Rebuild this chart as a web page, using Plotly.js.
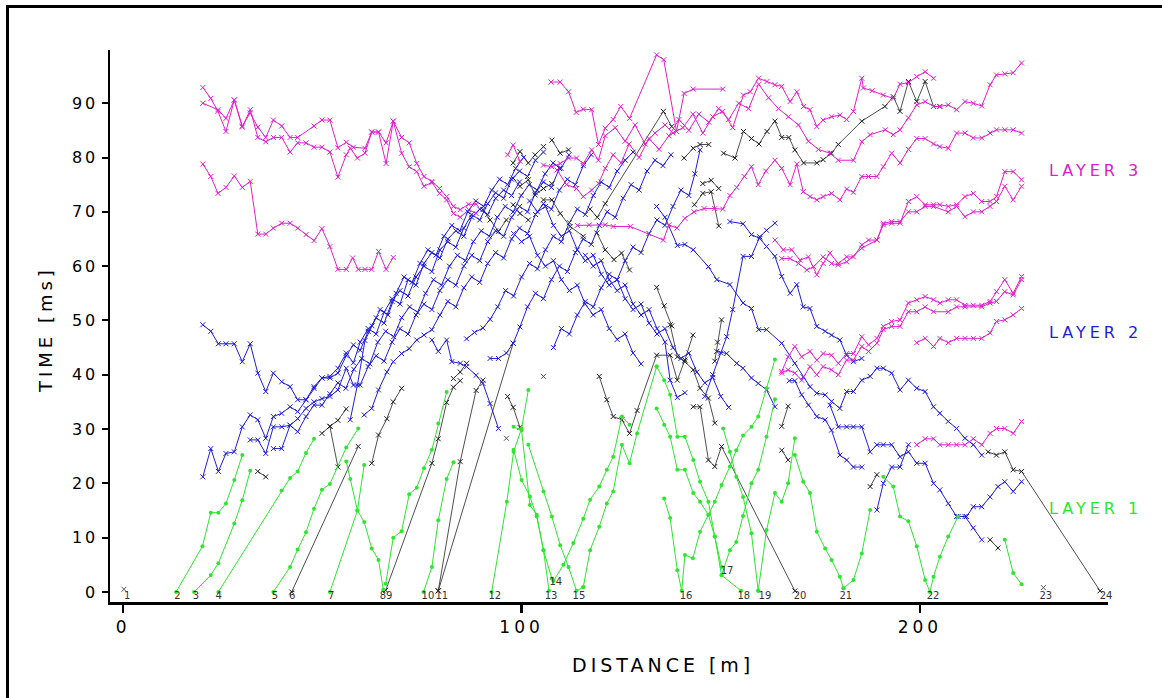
<!DOCTYPE html>
<html>
<head>
<meta charset="utf-8">
<script src="https://cdn.plot.ly/plotly-3.0.1.min.js"></script>
<style>
  html, body { margin:0; padding:0; background:#fff; }
  #wrap { position:relative; width:1162px; height:698px; }
  #chart { position:absolute; left:0; top:0; width:1162px; height:698px; }
  #frame { position:absolute; left:6px; top:5px; width:1160px; height:700px;
           border-left:3px solid #000; border-top:3px solid #000; pointer-events:none; }
  .xtick text { letter-spacing:4px; }
  .ytick text { letter-spacing:3px; }
  .annotation-text { letter-spacing:4px; }
</style>
</head>
<body>
<div id="wrap"><div id="chart"></div><div id="frame"></div></div>
<script>
// ---------------- LAYER 3 (magenta) ----------------
const m1x=[20.0,22.0,23.8,25.8,27.9,29.9,31.9,33.8,35.8,37.7,39.8,41.9,43.8,45.9,47.9,49.9,51.9,53.9,56.0,57.0,58.8,60.7,62.4,64.1,66.0,67.8,69.9,71.8,73.7,75.5,77.5,79.4,81.2,82.9,84.6,86.7,88.6];
const m1y=[92.9,90.9,88.5,84.8,90.6,85.6,88.8,83.7,82.9,83.7,83.7,81.0,82.7,82.7,81.9,81.9,81.0,76.4,80.5,81.7,79.9,80.8,84.7,84.7,78.9,86.7,80.8,78.3,77.4,74.7,75.4,73.4,72.2,69.7,69.0,70.4,69.7];
const m2x=[20.0,23.8,25.8,27.9,29.9,31.9,33.8,35.8,37.7,39.8,41.9,43.8,47.9,49.9,51.9,53.9,56.0,57.8,60.7,62.4,64.1,66.0,67.8,69.9,71.8,73.7,75.5,77.5,79.4,81.2,82.9,84.6,86.7,88.6];
const m2y=[90.0,88.8,87.2,90.6,85.8,88.2,85.6,83.7,86.9,85.8,83.7,83.7,85.8,86.9,86.9,81.8,82.8,81.9,81.7,84.7,84.7,82.7,86.7,83.7,82.7,78.9,76.5,75.6,74.3,72.8,71.0,70.4,71.4,71.4];
const m3x=[20.0,22.0,23.8,25.8,27.9,29.9,31.9,33.8,35.8,37.7,39.8,41.9,43.8,45.9,47.9,49.9,51.9,53.9,56.0,57.6,59.0,60.7,62.4,64.1,66.0,67.8];
const m3y=[78.8,76.5,73.4,74.5,76.6,74.5,75.6,65.9,65.9,67.0,67.9,67.9,67.0,65.8,64.7,66.9,63.6,59.4,59.4,61.5,59.4,59.4,59.4,62.7,59.4,61.6];
const m4x=[107.4,109.7,111.8,113.7,115.5,117.6,119.3,121.0,123.0,124.9,127.1,133.9,135.7,138.9,140.8,143.1,150.5];
const m4y=[93.9,93.9,92.1,88.3,88.9,88.8,82.4,85.4,87.0,89.4,87.2,98.9,98.0,84.8,91.8,92.6,92.6];
const m5x=[105.5,107.6,109.7,111.8,113.8,115.5,117.6,119.3,121.0,123.5,126.0,128.5,131.0,133.5,136.0,138.0,140.5,143.0,145.5,148.0,150.5,153.0,155.7,157.4,159.5,161.6,163.6,165.3,167.4,169.1,170.8,172.4,174.1,175.7,177.8,179.9,181.6,183.3,185.4,185.8,188.0,190.8,193.3,195.0,197.1,199.2,201.3,203.4];
const m5y=[78.6,78.3,78.9,79.9,79.9,78.9,81.4,79.5,84.0,85.5,83.0,86.0,82.5,84.5,86.0,84.5,85.5,88.0,84.5,87.5,88.5,85.5,91.5,92.1,94.6,94.0,93.4,93.1,90.3,92.1,89.4,88.8,85.7,86.9,87.5,87.8,87.0,88.5,94.6,92.8,92.3,91.5,90.9,93.5,93.8,94.9,95.8,94.6];
const m6x=[108.9,111.3,113.8,115.5,117.6,119.3,121.0,123.0,125.0,127.0,129.5,132.0,134.5,137.0,139.5,142.0,144.5,147.0,149.5,152.0,154.5,157.0,159.5,162.0,164.5,167.0,169.5,172.0,174.5,177.4,179.5,183.3,185.4,187.5,191.3,193.3,195.0,197.1,199.2,201.3,203.4,205.0,207.1,209.2,211.3,213.4,215.5,217.6,219.2,221.3,223.4,225.5];
const m6y=[77.7,75.0,74.3,72.8,74.0,75.2,78.0,80.5,79.0,82.5,80.0,83.5,81.5,84.0,87.0,85.0,88.0,86.5,89.0,87.0,90.0,89.0,93.5,91.0,89.0,87.5,86.0,83.0,81.5,80.8,79.5,79.5,82.9,84.2,85.1,84.2,85.1,87.3,89.7,90.3,89.4,89.4,89.7,88.8,90.3,90.0,89.5,93.4,95.2,95.4,95.6,97.4];
const m7x=[114.0,117.0,121.0,123.0,127.3,135.6,137.0,139.0,141.0,143.3,145.8,148.5,150.5,152.3,154.0,155.9,157.7,159.4,161.3,163.6,165.3,167.4,169.1,170.7,172.4,174.1,175.7,177.8,179.9,181.6,183.3,185.4,187.1,189.2,190.8,192.9,195.0,197.1,199.2,201.3,203.4,205.0,207.1,209.2,211.3,213.4,215.5,217.6,219.2,221.3,223.4,225.5];
const m7y=[67.5,67.6,67.6,67.3,67.3,64.8,67.6,67.0,68.8,70.0,70.6,70.6,70.5,73.0,74.5,76.5,78.3,75.0,77.5,79.5,78.0,75.0,78.8,73.7,72.8,72.2,72.8,73.4,72.2,74.2,73.6,76.5,76.5,76.5,78.3,80.8,79.0,81.5,83.5,83.5,82.5,82.0,81.7,84.5,84.5,83.6,83.6,84.5,85.1,85.1,85.1,84.5];
const m8x=[163.6,165.7,167.8,169.9,172.0,174.1,175.7,177.4,179.5,181.6,183.3,185.4,187.1,189.2,190.8,192.9,195.0,197.1,199.2,201.3,203.4,205.0,207.1,209.2,211.3,213.4,215.5,217.6,219.2,221.3,223.4,225.5];
const m8y=[64.8,63.0,63.0,61.1,61.7,58.4,60.5,62.4,60.5,61.7,61.7,63.9,64.8,64.8,67.6,67.9,67.9,71.9,72.8,71.3,71.3,71.3,71.0,71.3,72.8,73.4,71.9,71.9,72.8,77.4,77.4,75.9];
const m9x=[165.3,167.4,169.5,171.6,173.3,175.7,177.8,179.5,181.6,185.4,189.2,190.8,192.9,195.0,197.1,199.2,201.3,203.4,207.1,209.2,211.3,213.4,215.5,217.6,219.2,221.3,223.4,225.5];
const m9y=[61.4,61.4,60.5,59.3,59.9,61.7,60.5,60.2,60.8,63.3,64.8,67.9,68.2,68.2,70.0,70.0,71.0,71.0,70.0,71.0,69.1,70.0,70.0,71.0,71.9,74.7,72.2,74.7];
const m10x=[165.3,166.9,168.6,170.3,172.4,174.1,175.7,177.8,179.5,181.6,183.3,185.4,187.1,189.2,190.8,192.9,195.0,197.1,199.2,201.3,203.4,205.0,207.1,209.2,211.3,213.4,215.5,217.6,219.2,221.3,223.4,225.5];
const m10y=[40.6,43.3,45.2,43.3,44.3,42.7,43.9,43.6,42.1,43.9,43.9,47.0,45.5,46.7,48.9,49.8,50.1,53.2,53.8,54.4,53.8,53.2,53.8,53.8,52.8,52.8,52.8,53.5,55.3,57.5,55.0,58.1];
const m11x=[165.3,166.9,168.6,170.3,172.4,174.1,175.7,177.8,179.5,181.6,183.3,185.4,187.1,189.2,190.8,192.9,195.0,197.1,199.2,201.3,203.4,207.1,209.2,211.3,215.5,217.6,219.2,221.3,223.4,225.5];
const m11y=[40.3,40.9,40.3,39.0,41.5,40.0,41.5,40.9,40.0,42.7,42.7,45.2,44.3,45.8,48.3,48.9,48.9,51.6,51.6,52.5,51.6,51.6,52.5,52.5,52.5,53.2,53.5,55.3,54.7,57.5];
const m12x=[199.2,201.3,203.4,205.0,207.1,209.2,211.3,213.4,215.5,217.6,219.2,221.3,223.4,225.5];
const m12y=[45.9,46.7,45.2,46.7,45.9,46.7,46.7,46.7,46.7,47.7,49.8,50.1,51.0,52.2];
const m13x=[199.2,201.3,203.4,205.0,207.1,209.2,211.3,213.4,215.5,217.6,219.2,221.3,223.4,225.5];
const m13y=[27.1,28.2,28.2,27.1,27.1,27.1,27.1,28.2,27.1,29.2,30.1,30.1,29.2,31.4];
const m14x=[96.5,97.9,99.6];
const m14y=[80.5,82.3,79.3];

// ---------------- LAYER 2 (blue) ----------------
const b1x=[20.0,22.0,23.9,25.8,27.9,29.9,31.9,33.8,35.8,37.7,39.8,41.9,43.8,45.9,47.9,49.9,51.9,53.9,56.0,57.8,59.5,61.5,63.5,65.5,67.5,69.5,71.5,73.5,75.5,77.5,79.5,81.5,83.5,85.5,87.5,89.5,91.5,93.5,95.5,97.5,99.5];
const b1y=[21.2,26.4,22.2,25.5,25.8,30.4,32.6,31.7,28.3,32.3,32.9,34.1,33.2,35.4,37.5,39.4,39.7,41.2,44.0,42.2,46.0,48.5,47.5,51.5,54.0,53.0,57.5,56.5,60.5,62.5,61.5,65.0,66.5,65.5,69.0,70.5,69.5,72.5,74.0,73.0,75.5];
const b2x=[20.0,22.0,23.9,25.8,27.9,29.9,31.9,33.8,35.8,37.7,39.8,41.9,43.8,45.9,47.9,49.9,51.9,53.9,56.0,57.8,59.5,61.5,63.5,65.5,67.5,69.5,71.5,73.5,75.5,77.5,79.5,81.5,83.5,85.5,87.5,89.5,91.5,93.5,95.5,97.5,99.5,101.5,103.5,105.5];
const b2y=[49.2,48.0,45.7,45.7,45.7,42.4,45.7,40.3,36.9,40.3,38.7,37.8,35.4,35.4,37.8,39.4,39.4,40.3,43.5,45.5,44.5,48.0,50.5,49.5,53.5,55.5,54.5,58.0,60.0,59.0,63.0,64.5,63.5,67.0,69.5,68.5,71.5,73.5,72.5,76.0,77.5,76.5,79.5,81.0];
const b3x=[31.9,33.8,35.8,37.7,39.8,41.9,43.8,45.9,47.9,49.9,51.9,53.9,55.9,57.9,59.9,61.9,63.9,65.9,67.9,69.9,71.9,73.9,75.9,77.9,79.9,81.9,83.9,85.9,87.9,89.9,91.9,93.9,95.9,97.9,99.9,101.9,103.9,105.9,107.9,109.9,111.9];
const b3y=[28.0,28.0,25.5,30.4,30.4,30.7,29.5,32.3,34.4,34.4,36.5,38.5,37.5,41.0,43.0,42.0,46.0,48.0,47.0,50.5,52.5,51.5,55.0,57.5,56.5,60.0,62.0,61.0,64.5,66.5,65.5,69.0,71.0,70.0,73.0,75.0,74.0,77.0,79.0,78.0,80.5];
const b4x=[37.7,39.8,41.9,43.8,45.9,47.9,49.9,51.9,53.9,56.0,57.8,59.5,61.5,63.5,65.5,67.5,69.5,71.5,73.5,75.5,77.5,79.5,81.5,83.5,85.5,87.5,89.5,91.5,93.5,95.5,97.5,99.5,101.5,103.5,105.5,107.5,109.5];
const b4y=[26.4,26.4,30.7,31.9,33.8,35.0,35.6,36.0,37.2,41.2,38.1,38.1,41.5,43.5,42.5,46.0,48.5,47.5,51.0,53.0,52.0,55.5,57.5,56.5,60.0,62.0,61.0,64.5,66.5,65.5,69.0,71.0,70.0,73.5,75.5,74.5,78.0];
const b5x=[57.0,58.8,60.7,62.5,64.5,66.5,68.5,70.5,72.5,74.5,76.5,78.5,80.5,82.5,84.5,86.5,88.5,90.5,92.5,94.5,96.5,98.5,100.5];
const b5y=[31.7,38.1,46.3,49.0,52.0,51.0,55.0,58.0,57.0,60.5,63.0,62.0,65.5,67.5,66.5,70.0,72.0,71.0,74.0,76.0,75.0,78.0,80.0];
const b6x=[60.5,62.4,64.1,66.2,67.8,69.9,71.8,73.7,75.5,77.5,79.5,81.5,83.5,85.5,87.5,89.5,91.5,93.5,95.5,97.5,99.5,101.5,103.5,105.5,107.5,109.5,111.5,113.5,115.5,117.5];
const b6y=[32.6,33.8,37.2,40.5,42.4,43.9,44.8,46.4,47.3,48.3,51.0,53.5,52.5,56.0,58.0,57.0,60.5,62.5,61.5,65.0,67.0,66.0,69.5,71.5,70.5,74.0,76.0,75.0,78.5,80.5];
const b7x=[77.5,79.1,81.2,82.5,84.6,86.2,88.6,90.3,92.1,94.2];
const b7y=[46.4,44.3,46.4,42.4,42.1,41.5,39.9,38.4,34.7,30.1];
const b8x=[92.1,94.2,96.2,97.9,99.6,101.5,103.5,105.5,107.5,109.5,111.5,113.5,115.5,117.5,119.5,121.5,123.5,125.5,127.5,129.5,131.5,133.5,135.5,137.5];
const b8y=[43.0,43.0,44.0,45.8,48.8,52.5,55.0,54.0,57.5,60.0,59.0,62.5,65.0,64.0,67.5,70.0,69.0,72.5,75.0,74.0,77.5,79.5,78.5,80.5];
const b9x=[86.2,88.2,90.3,92.1,94.0,96.0,98.0,100.0,102.0,104.0,106.0,108.0,110.0,112.0,114.0,116.0,118.0,120.0,122.0,124.0,126.0,128.0];
const b9y=[46.6,47.8,48.6,50.2,52.5,55.5,54.5,58.0,60.5,59.5,63.0,65.5,64.5,68.0,70.5,69.5,73.0,75.5,74.5,77.5,79.5,81.0];
const b10x=[108.0,110.0,112.0,114.0,116.0,118.0,120.0,122.0,124.0,126.0,128.0,130.0,132.0,134.0,136.0,138.0,140.0,142.0,143.5,144.8];
const b10y=[45.0,48.5,47.5,51.0,53.5,52.5,56.0,58.5,57.5,61.0,63.5,62.5,66.0,68.5,67.5,71.0,74.0,73.0,77.0,81.4];
const b11x=[98.0,100.0,102.0,104.0,106.0,108.0,110.0,112.0,114.0,116.0,118.0,120.0,122.0,124.0,126.0,128.0,130.0];
const b11y=[66.0,64.5,65.5,62.0,60.0,61.0,57.5,55.5,56.5,53.0,51.0,52.0,48.5,46.5,47.5,44.0,42.0];
const b12x=[102.0,104.0,106.0,108.0,110.0,112.0,114.0,116.0,118.0,120.0,122.0,124.0,126.0,128.0,130.0,132.0,134.0,136.0,138.0,140.0,142.0,144.0,146.0,148.0,150.0,152.0];
const b12y=[72.0,70.0,71.0,67.5,65.5,66.5,63.0,61.0,62.0,58.5,56.5,57.5,54.0,52.0,53.0,49.5,47.5,48.5,45.0,43.0,44.0,40.5,38.5,39.5,36.0,34.0];
const b13x=[116.0,118.0,120.0,122.0,124.0,126.0,128.0,130.0,132.0,134.0,136.0,137.3,139.1,141.0];
const b13y=[62.0,60.0,61.0,57.5,55.5,56.5,53.0,51.0,52.0,48.5,46.0,39.0,35.8,36.7];
const b14x=[133.9,136.0,139.1,141.0,143.1,146.9,149.0,152.3,155.6,157.7,159.5,161.5,165.3,168.6,170.7,172.4,174.1,176.2,177.8,179.9,181.6,183.3,185.4,187.5,189.2,190.8,192.9,195.0,197.1,199.2,201.3,203.4,205.0,207.1,209.2,211.3,213.4,215.5];
const b14y=[71.0,69.0,63.8,64.0,63.0,59.9,57.5,56.6,53.2,52.2,48.3,48.3,45.8,42.1,39.6,37.8,36.6,36.3,35.1,33.8,36.9,36.9,39.0,39.7,41.2,41.2,40.3,37.2,39.0,37.5,36.9,34.1,32.9,31.4,30.1,28.3,27.1,25.2];
const b15x=[152.3,155.6,157.7,159.8,161.5,163.6,165.3,167.4,169.1,170.7,172.4,174.1,176.2,177.8,179.9,181.6,183.3,185.4];
const b15y=[68.2,67.8,65.8,65.1,63.6,61.8,58.1,55.0,56.6,52.5,52.2,48.9,48.0,47.3,46.4,43.6,42.4,43.0];
const b16x=[149.0,151.5,154.0,155.6,157.7,159.4,161.5,163.6];
const b16y=[44.3,43.9,42.1,41.2,39.4,38.4,37.2,34.1];
const b17x=[167.2,168.6,170.3,172.0,174.1,176.2,177.8,179.9,181.6,183.3,185.4];
const b17y=[38.9,38.9,36.3,34.4,32.3,31.7,29.8,25.2,24.3,23.0,23.0];
const b18x=[177.4,179.5,181.6,183.3,185.4,187.5,189.2,190.8,192.9,195.0,197.1,199.2,201.3,203.4,205.0,207.1,209.2,211.3,213.4,215.5];
const b18y=[34.4,30.4,30.4,30.4,30.4,25.8,27.1,27.1,27.1,24.9,25.8,23.7,23.7,20.0,18.8,16.3,13.9,13.9,11.8,9.6];
const b19x=[189.2,190.8,192.9,195.0,197.1];
const b19y=[15.1,20.0,23.0,23.0,27.1];
const b20x=[209.6,211.7,213.4,215.5,217.6,219.6,221.3,223.4,225.5];
const b20y=[13.9,13.9,15.7,15.7,17.5,19.4,20.3,18.5,20.3];
const b21x=[146.0,148.0,150.0,151.5,153.0,155.6,157.7,159.8,161.5,163.6];
const b21y=[36.0,40.0,44.0,47.0,52.0,61.8,61.8,65.4,66.6,67.9];

// ---------------- other arrivals (black) ----------------
const k1x=[33.8,35.8], k1y=[22.2,21.2];
const k2x=[42.3,59.0], k2y=[0.0,26.8];
const k3x=[49.9,51.9,53.9], k3y=[29.2,30.5,23.0];
const k4x=[51.9,53.9,56.0], k4y=[30.5,31.6,33.7];
const k5x=[65.9,77.5,79.1,81.2,82.9,84.6], k5y=[0.3,23.7,28.2,34.9,37.7,38.9];
const k6x=[62.4,64.1,66.2,67.8,69.9], k6y=[23.7,28.9,31.9,35.0,37.5];
const k7x=[79.1,84.6,88.6,90.3], k7y=[0.2,24.0,37.1,39.0];
const k8x=[82.9,84.6,86.2], k8y=[39.3,40.5,42.1];
const k9x=[79.1,97.9], k9y=[0.2,45.8];
const k10x=[96.5,97.9,99.6], k10y=[36.0,34.0,30.3];
const k11x=[119.5,121.4,123.0,125.2,127.1,129.0,133.9,137.3,139.1,141.0,143.0];
const k11y=[39.7,35.4,32.3,31.7,29.2,33.4,43.6,43.6,39.0,42.7,47.3];
const k12x=[137.3,139.1,141.0,143.1,144.8,146.9,148.5], k12y=[49.2,43.3,42.4,40.9,37.5,35.7,31.1];
const k13x=[143.1,144.8,146.9,148.5,150.2,168.6], k13y=[34.1,34.1,24.3,23.1,26.8,0.2];
const k14x=[148.5,149.2,150.2], k14y=[42.5,46.0,50.1];
const k15x=[165.3,166.9], k15y=[26.1,24.3];
const k16x=[165.3,166.9], k16y=[30.5,34.2];
const k17x=[187.5,189.2], k17y=[19.4,21.6];
const k18x=[217.1,219.2,221.3,223.4,225.5,245.2], k18y=[25.8,25.2,25.8,22.5,22.2,0.2];
const k19x=[217.6,219.6], k19y=[9.6,8.1];
const k20x=[150.7,153.6,155.7,157.7,159.6,161.6,163.6,165.3,167.1,168.6,170.8,174.1,175.7,177.8,179.5,185.4,191.2,193.3,195.0,197.1,199.2,201.3,203.4,205.0];
const k20y=[80.8,79.9,84.8,83.5,82.5,84.8,86.7,83.7,83.7,81.4,79.0,79.0,79.6,80.8,82.4,86.7,89.4,91.2,88.5,94.0,90.3,94.0,89.4,89.4];
const k21x=[140.8,143.1,144.8,147.0], k21y=[79.9,81.7,82.4,82.4];
const k22x=[143.4,145.5,147.6,149.5], k22y=[71.3,73.4,73.7,67.4];
const k23x=[145.5,147.6,149.5], k23y=[75.2,75.8,74.3];
const k24x=[133.9,135.8,137.7], k24y=[56.1,52.7,49.0];
const k25x=[118.9,121.0,123.2,125.1,127.1], k25y=[66.1,63.0,61.2,62.4,59.3];
const k26x=[117.2,119.0,121.0,135.6,137.7], k26y=[70.5,69.0,71.5,88.5,85.7];
const k27x=[97.9,99.6,101.7,103.4,105.5], k27y=[79.0,81.1,79.0,80.5,82.0];
const k28x=[107.6,109.7,111.8], k28y=[83.2,80.8,81.4];
const k29x=[97.9,99.6,101.7,103.4,105.5,107.6], k29y=[76.2,74.7,75.9,73.1,74.3,75.2];
const k30x=[90.3,92.1,94.2,96.2], k30y=[70.4,68.5,66.4,68.5];
const k31x=[97.9,99.6,101.7], k31y=[71.3,69.7,68.5];
const k32x=[105.5,107.6,109.7,112.2,115.5], k32y=[72.2,72.2,69.7,67.3,65.5];
const kPtsX=[0.2,96.2,105.5,231.0], kPtsY=[0.5,28.3,39.7,0.8];

// ---------------- LAYER 1 (green) ----------------
const g1x=[13.3,19.9,22.0,23.9,25.8,27.9,29.9], g1y=[0.0,8.4,14.6,14.6,16.3,20.6,25.2];
const g2x=[17.8,22.0,23.9,27.9,29.9,31.9], g2y=[0.0,3.1,5.3,12.6,16.9,22.3];
const g3x=[23.9,39.8,41.9,43.8,45.9,47.9], g3y=[0.0,18.7,21.0,22.2,25.6,28.2];
const g4x=[37.7,41.9,43.8,45.9,47.9,49.9,51.9,56.0,59.0], g4y=[0.0,4.6,7.8,11.0,15.3,18.8,19.9,26.6,30.1];
const g5x=[51.9,58.8,60.5], g5y=[0.0,15.0,23.4];
const g6x=[65.3,64.1,62.4,60.5,58.8,57.0,56.0], g6y=[0.4,5.9,8.0,12.9,15.0,20.8,24.0];
const g7x=[65.9,67.8,69.9,71.8,73.7,75.5,77.5,79.1,81.2], g7y=[1.5,10.0,11.2,18.0,19.2,22.8,26.2,31.0,36.8];
const g8x=[75.4,77.5,79.1,81.2,82.9], g8y=[0.0,4.6,13.2,20.8,23.9];
const g9x=[92.5,96.3,98.0,100.0,101.7], g9y=[0.0,16.6,25.8,30.1,37.2];
const g10x=[98.0,100.0,102.1,103.8,105.5,106.9], g10y=[30.4,29.8,16.0,14.2,7.7,0.2];
const g11x=[98.0,100.0,102.1,103.8,105.5,107.6], g11y=[26.2,20.6,17.6,13.9,7.7,2.5];
const g12x=[101.7,105.5,107.6,109.7,111.8,113.8,115.5], g12y=[27.1,18.5,13.9,8.6,4.6,0.2,0.9];
const g13x=[108.0,110.5,113.0,115.5,117.2,119.5,121.4,123.0,125.2,127.1], g13y=[2.0,5.0,9.0,13.5,17.0,19.4,22.5,24.9,32.3,30.8];
const g14x=[115.5,117.2,119.5,121.4,123.0,125.2,127.1,129.0,133.9], g14y=[0.9,7.7,12.0,16.3,18.5,27.1,23.7,29.2,41.5];
const g15x=[133.9,135.8,137.3,139.1,141.0,143.1,144.8,146.9,148.5,150.2,155.1], g15y=[41.5,39.0,36.3,28.6,28.6,24.3,20.3,16.6,10.2,3.1,0.2];
const g16x=[133.9,135.8,137.3,139.1,141.0,143.1,144.8,146.9,148.5,150.2], g16y=[33.8,30.8,28.6,22.5,22.5,18.2,16.6,14.2,10.2,4.6];
const g17x=[135.8,137.3,139.1,140.2,141.0,143.0,144.8,146.9,148.5,150.2,152.3,153.9,155.6,157.7,159.4,161.5,163.6];
const g17y=[17.2,13.6,4.0,0.2,6.8,6.2,11.1,14.2,16.6,19.7,23.1,26.1,28.8,30.4,32.3,37.5,42.8];
const g18x=[150.2,152.3,153.9,155.6,157.7,159.4,161.5,163.6], g18y=[3.1,7.7,9.2,14.0,20.0,22.5,28.6,35.5];
const g19x=[150.6,152.3,153.9,155.6,157.7,159.4], g19y=[30.1,25.8,21.2,17.5,10.8,0.2];
const g20x=[159.4,161.5,163.6,165.3,166.9,168.6], g20y=[0.2,11.4,18.2,16.6,20.0,28.3];
const g21x=[168.6,170.7,172.4,174.1,176.2,177.8,179.9,180.8], g21y=[25.2,20.3,18.2,11.1,8.0,5.9,2.8,0.7];
const g22x=[180.8,183.3,185.4,187.5], g22y=[0.7,2.2,7.1,15.1];
const g23x=[190.8,193.3,195.0,197.1,199.2,201.3,202.5,203.4,205.0,207.1,209.6], g23y=[21.2,19.4,13.9,13.0,8.4,2.2,0.0,2.8,6.5,10.2,13.9];
const g24x=[221.3,223.4,225.5], g24y=[9.6,3.5,1.4];

// ---------------- shot labels ----------------
const shotLabels=['1','2','3','4','5','6','7','8','9','10','11','12','13','14','15','16','17','18','19','20','21','22','23','24'];
const shotLabelX=[1.0,13.6,18.3,24.0,38.1,42.4,52.2,65.2,66.8,76.5,80.0,93.3,107.4,108.6,114.4,141.3,151.6,155.8,161.1,169.9,181.4,203.3,231.6,246.7];
const shotLabelY=[-0.9,-0.9,-0.9,-0.9,-0.9,-0.9,-0.9,-0.9,-0.9,-0.9,-0.9,-0.9,-0.9,1.7,-0.9,-0.9,3.7,-0.9,-0.9,-0.9,-0.9,-0.9,-0.9,-0.9];

const xTicks=[0,100,200];
const yTicks=[0,10,20,30,40,50,60,70,80,90];

const MAG='#e020cc', BLU='#1f1fcf', GRN='#2ee62e', BLK='#222222';
const L3=[[m1x,m1y],[m2x,m2y],[m3x,m3y],[m4x,m4y],[m5x,m5y],[m6x,m6y],[m7x,m7y],[m8x,m8y],[m9x,m9y],[m10x,m10y],[m11x,m11y],[m12x,m12y],[m13x,m13y],[m14x,m14y]];
const L2=[[b1x,b1y],[b2x,b2y],[b3x,b3y],[b4x,b4y],[b5x,b5y],[b6x,b6y],[b7x,b7y],[b8x,b8y],[b9x,b9y],[b10x,b10y],[b11x,b11y],[b12x,b12y],[b13x,b13y],[b14x,b14y],[b15x,b15y],[b16x,b16y],[b17x,b17y],[b18x,b18y],[b19x,b19y],[b20x,b20y],[b21x,b21y]];
const LK=[[k1x,k1y],[k2x,k2y],[k3x,k3y],[k4x,k4y],[k5x,k5y],[k6x,k6y],[k7x,k7y],[k8x,k8y],[k9x,k9y],[k10x,k10y],[k11x,k11y],[k12x,k12y],[k13x,k13y],[k14x,k14y],[k15x,k15y],[k16x,k16y],[k17x,k17y],[k18x,k18y],[k19x,k19y],[k20x,k20y],[k21x,k21y],[k22x,k22y],[k23x,k23y],[k24x,k24y],[k25x,k25y],[k26x,k26y],[k27x,k27y],[k28x,k28y],[k29x,k29y],[k30x,k30y],[k31x,k31y],[k32x,k32y]];
const L1=[[g1x,g1y],[g2x,g2y],[g3x,g3y],[g4x,g4y],[g5x,g5y],[g6x,g6y],[g7x,g7y],[g8x,g8y],[g9x,g9y],[g10x,g10y],[g11x,g11y],[g12x,g12y],[g13x,g13y],[g14x,g14y],[g15x,g15y],[g16x,g16y],[g17x,g17y],[g18x,g18y],[g19x,g19y],[g20x,g20y],[g21x,g21y],[g22x,g22y],[g23x,g23y],[g24x,g24y]];

const traces=[];
function xSeries(list,color,w){
  list.forEach(([x,y])=>traces.push({type:'scatter',mode:'lines+markers',x:x,y:y,
    line:{color:color,width:w},
    marker:{symbol:'x-thin',size:5,color:color,line:{color:color,width:1}},
    hoverinfo:'skip',cliponaxis:false}));
}
xSeries(LK,BLK,0.8);
xSeries(L2,BLU,1);
xSeries(L3,MAG,1);
L1.forEach(([x,y])=>traces.push({type:'scatter',mode:'lines+markers',x:x,y:y,
  line:{color:GRN,width:1},marker:{symbol:'circle',size:4,color:GRN},hoverinfo:'skip',cliponaxis:false}));
traces.push({type:'scatter',mode:'markers',x:kPtsX,y:kPtsY,
  marker:{symbol:'x-thin',size:5,color:'#555',line:{color:'#555',width:1}},hoverinfo:'skip'});
traces.push({type:'scatter',mode:'text',x:shotLabelX,y:shotLabelY,text:shotLabels,
  textfont:{family:'DejaVu Sans',size:10,color:'#333'},textposition:'middle center',hoverinfo:'skip',cliponaxis:false});

const FONT='DejaVu Sans';
const layout={
  width:1162,height:698,
  margin:{l:110,r:54,t:50,b:96},
  paper_bgcolor:'#ffffff',plot_bgcolor:'#ffffff',
  showlegend:false,
  xaxis:{range:[-3.3,247.2],tickvals:xTicks,ticktext:xTicks.map(String),ticks:'outside',ticklen:8,tickwidth:2.5,tickcolor:'#000',
    showline:true,linecolor:'#000',linewidth:3,showgrid:false,zeroline:false,
    tickfont:{family:FONT,size:17,color:'#000'}},
  yaxis:{range:[-1.85,99.8],tickvals:yTicks,ticktext:yTicks.map(String),ticks:'outside',ticklen:6,tickwidth:2,tickcolor:'#000',
    showline:true,linecolor:'#000',linewidth:2.5,showgrid:false,zeroline:false,
    tickfont:{family:FONT,size:16,color:'#000'}},
  annotations:[
    {xref:'paper',yref:'paper',x:(45-110)/998,y:(602-330)/552,text:'TIME [ms]',textangle:-90,showarrow:false,
     font:{family:FONT,size:18,color:'#000'},xanchor:'center',yanchor:'middle'},
    {xref:'paper',yref:'paper',x:(663-110)/998,y:(602-665)/552,text:'DISTANCE [m]',showarrow:false,
     font:{family:FONT,size:19,color:'#000'},xanchor:'center',yanchor:'middle'},
    {xref:'paper',yref:'paper',x:(1095-110)/998,y:(602-170)/552,text:'LAYER 3',showarrow:false,
     font:{family:FONT,size:16,color:MAG},xanchor:'center',yanchor:'middle'},
    {xref:'paper',yref:'paper',x:(1095-110)/998,y:(602-332)/552,text:'LAYER 2',showarrow:false,
     font:{family:FONT,size:16,color:BLU},xanchor:'center',yanchor:'middle'},
    {xref:'paper',yref:'paper',x:(1095-110)/998,y:(602-508)/552,text:'LAYER 1',showarrow:false,
     font:{family:FONT,size:16,color:GRN},xanchor:'center',yanchor:'middle'}
  ]
};
Plotly.newPlot('chart',traces,layout,{displayModeBar:false,staticPlot:true});
</script>
</body>
</html>
